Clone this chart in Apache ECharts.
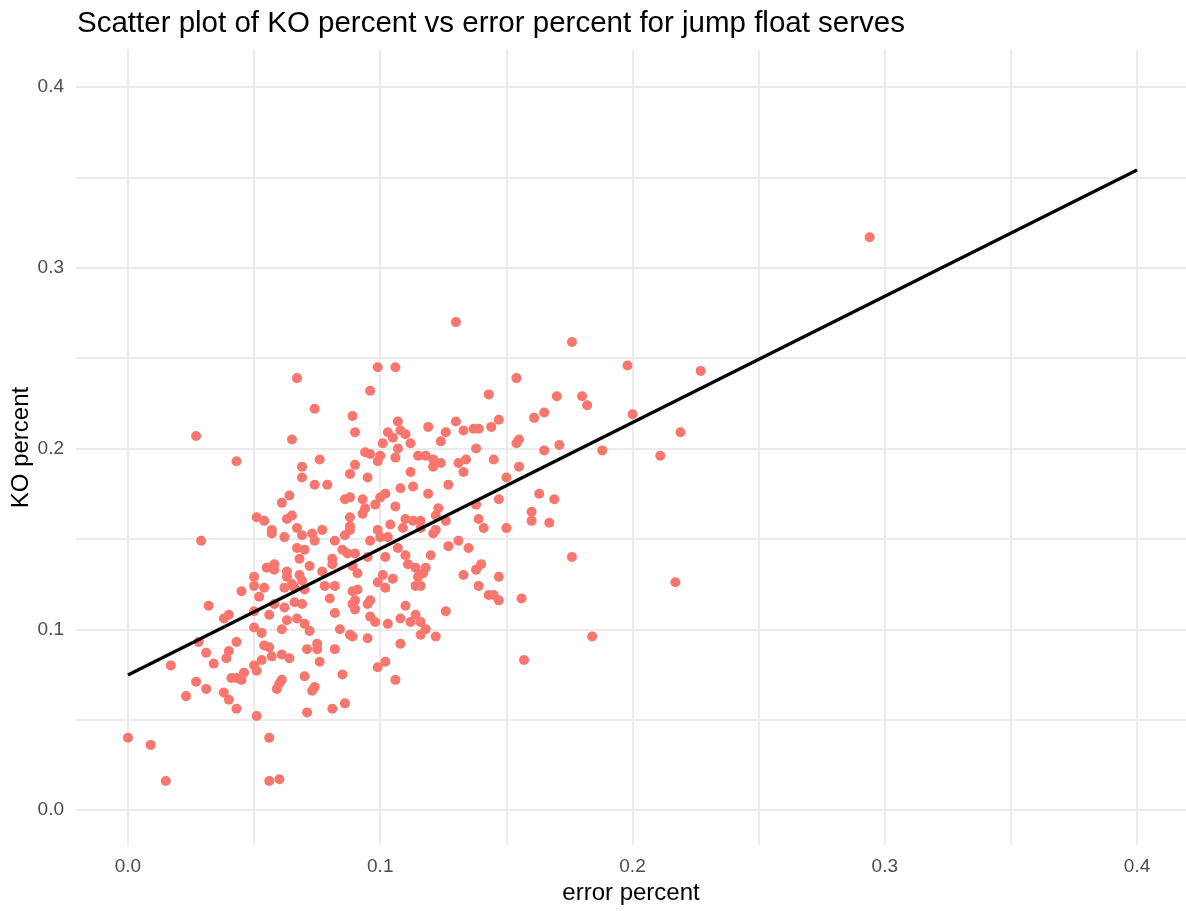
<!DOCTYPE html>
<html lang="en" style="height: 100%">

<head>
    <meta charset="UTF-8" />
    <title>KO vs error</title>
    <style>
        html, body {
            margin: 0;
            padding: 0;
            background: #ffffff;
        }
        #container {
            width: 1186px;
            height: 911px;
        }
    </style>
</head>

<body>
    <div id="container"></div>
    <script src="https://cdn.jsdelivr.net/npm/echarts@6/dist/echarts.min.js"></script>

    <script type="text/javascript">
        // error percent (x) / KO percent (y), one entry per server
        var errPct = [
            0.027, 0.043, 0.061, 0.064, 0.051, 0.054, 0.057, 0.057, 0.063, 0.062,
            0.029, 0.055, 0.058, 0.058, 0.050, 0.050, 0.054, 0.052, 0.045, 0.062,
            0.063, 0.058, 0.062, 0.056, 0.050, 0.032, 0.038, 0.040, 0.050, 0.053,
            0.061, 0.063, 0.028, 0.043, 0.054, 0.056, 0.031, 0.040, 0.039, 0.034,
            0.017, 0.053, 0.057, 0.061, 0.050, 0.051, 0.046, 0.041, 0.043, 0.045,
            0.061, 0.060, 0.059, 0.027, 0.031, 0.023, 0.038, 0.040, 0.043, 0.051,
            0.000, 0.009, 0.056, 0.015, 0.056, 0.060,
            0.130, 0.099, 0.106, 0.067, 0.096, 0.074, 0.089, 0.090, 0.065, 0.107,
            0.103, 0.105, 0.108, 0.110, 0.101, 0.107, 0.112, 0.119, 0.130, 0.126,
            0.124, 0.133, 0.137, 0.139, 0.138, 0.094, 0.096, 0.100, 0.099, 0.106,
            0.115, 0.118, 0.121, 0.121, 0.124, 0.131, 0.134, 0.133, 0.076, 0.069,
            0.090, 0.088, 0.069, 0.095, 0.112, 0.074, 0.079, 0.127, 0.113, 0.108,
            0.119, 0.086, 0.088, 0.093, 0.100, 0.102, 0.098, 0.106, 0.094, 0.093,
            0.065, 0.088, 0.123, 0.110, 0.113, 0.116, 0.122, 0.126, 0.138, 0.139,
            0.067, 0.077, 0.088, 0.088, 0.099, 0.104, 0.109, 0.116, 0.121, 0.122,
            0.069, 0.073, 0.074, 0.082, 0.086, 0.096, 0.100, 0.103, 0.107, 0.110,
            0.120, 0.127, 0.131, 0.135, 0.067, 0.070, 0.085, 0.081, 0.087, 0.090,
            0.068, 0.102,
            0.095, 0.072, 0.063, 0.068, 0.069, 0.065, 0.066, 0.070, 0.077, 0.081,
            0.089, 0.091, 0.101, 0.105, 0.099, 0.102, 0.111, 0.114, 0.118, 0.117,
            0.115, 0.114, 0.116, 0.133, 0.138, 0.139, 0.078, 0.082, 0.080, 0.082,
            0.089, 0.091, 0.089, 0.090, 0.090, 0.095, 0.096, 0.066, 0.069, 0.096,
            0.098, 0.103, 0.110, 0.108, 0.112, 0.114, 0.116, 0.118, 0.116, 0.122,
            0.126, 0.067, 0.070, 0.072, 0.084, 0.088, 0.089, 0.095, 0.108, 0.075,
            0.071, 0.075, 0.082, 0.064, 0.076, 0.102, 0.099, 0.070, 0.085, 0.106,
            0.074, 0.073, 0.086, 0.081, 0.071,
            0.176, 0.198, 0.154, 0.143, 0.170, 0.180, 0.182, 0.161, 0.165, 0.200,
            0.147, 0.144, 0.155, 0.154, 0.165, 0.171, 0.188, 0.211, 0.145, 0.155,
            0.150, 0.147, 0.163, 0.169, 0.141, 0.150, 0.160, 0.160, 0.167, 0.176,
            0.140, 0.147, 0.143, 0.145, 0.147, 0.156, 0.184, 0.157,
            0.294, 0.227, 0.219, 0.217
        ];
        var koPct = [
            0.207, 0.193, 0.170, 0.174, 0.162, 0.160, 0.155, 0.153, 0.161, 0.151,
            0.149, 0.134, 0.136, 0.133, 0.129, 0.124, 0.123, 0.118, 0.121, 0.123,
            0.129, 0.114, 0.112, 0.108, 0.110, 0.113, 0.106, 0.108, 0.101, 0.098,
            0.100, 0.105, 0.093, 0.093, 0.091, 0.090, 0.087, 0.088, 0.084, 0.081,
            0.080, 0.083, 0.085, 0.086, 0.080, 0.077, 0.076, 0.073, 0.073, 0.072,
            0.072, 0.070, 0.067, 0.071, 0.067, 0.063, 0.065, 0.061, 0.056, 0.052,
            0.040, 0.036, 0.040, 0.016, 0.016, 0.017,
            0.270, 0.245, 0.245, 0.239, 0.232, 0.222, 0.218, 0.209, 0.205, 0.215,
            0.209, 0.206, 0.210, 0.208, 0.203, 0.200, 0.203, 0.212, 0.215, 0.209,
            0.204, 0.210, 0.211, 0.211, 0.200, 0.198, 0.197, 0.196, 0.193, 0.195,
            0.196, 0.196, 0.194, 0.190, 0.192, 0.192, 0.194, 0.187, 0.194, 0.190,
            0.191, 0.186, 0.184, 0.184, 0.187, 0.180, 0.180, 0.180, 0.179, 0.178,
            0.175, 0.172, 0.173, 0.172, 0.173, 0.175, 0.169, 0.168, 0.167, 0.164,
            0.163, 0.162, 0.167, 0.161, 0.160, 0.160, 0.163, 0.160, 0.169, 0.161,
            0.156, 0.155, 0.157, 0.155, 0.155, 0.158, 0.156, 0.156, 0.153, 0.155,
            0.152, 0.153, 0.149, 0.149, 0.152, 0.149, 0.151, 0.151, 0.145, 0.141,
            0.141, 0.146, 0.149, 0.145, 0.145, 0.144, 0.144, 0.139, 0.142, 0.142,
            0.139, 0.140,
            0.140, 0.135, 0.132, 0.130, 0.127, 0.125, 0.123, 0.122, 0.132, 0.136,
            0.135, 0.131, 0.130, 0.128, 0.126, 0.123, 0.136, 0.134, 0.134, 0.131,
            0.129, 0.124, 0.124, 0.130, 0.133, 0.124, 0.124, 0.124, 0.117, 0.109,
            0.121, 0.122, 0.114, 0.116, 0.111, 0.114, 0.116, 0.115, 0.114, 0.107,
            0.104, 0.103, 0.113, 0.106, 0.104, 0.108, 0.104, 0.100, 0.097, 0.096,
            0.110, 0.106, 0.103, 0.099, 0.100, 0.097, 0.096, 0.095, 0.092, 0.092,
            0.089, 0.089, 0.089, 0.084, 0.082, 0.082, 0.079, 0.074, 0.075, 0.072,
            0.068, 0.066, 0.059, 0.056, 0.054,
            0.259, 0.246, 0.239, 0.230, 0.229, 0.229, 0.224, 0.217, 0.220, 0.219,
            0.216, 0.212, 0.205, 0.203, 0.199, 0.202, 0.199, 0.196, 0.194, 0.190,
            0.184, 0.172, 0.175, 0.172, 0.156, 0.156, 0.165, 0.160, 0.159, 0.140,
            0.136, 0.129, 0.119, 0.119, 0.116, 0.117, 0.096, 0.083,
            0.317, 0.243, 0.209, 0.126
        ];
        // fitted line end points
        var fitX = [0, 0.4];
        var fitY = [0.0747, 0.3542];
        // gridline positions and labelled ticks
        var gridVals = [0, 0.05, 0.1, 0.15, 0.2, 0.25, 0.3, 0.35, 0.4];
        var tickVals = [0, 0.1, 0.2, 0.3, 0.4];

        var font = "'Liberation Sans', Arial, sans-serif";
        var dom = document.getElementById("container");
        var myChart = echarts.init(dom, null, { renderer: 'canvas' });

        var points = errPct.map(function (x, i) { return [x, koPct[i]]; });
        var line = fitX.map(function (x, i) { return [x, fitY[i]]; });

        function axis(name, gap, extra) {
            var a = {
                type: 'value',
                name: name,
                nameLocation: 'middle',
                nameGap: gap,
                nameMoveOverlap: false,
                nameTextStyle: { color: '#000', fontSize: 24, fontFamily: font },
                axisLine: { show: false },
                axisTick: { show: false, customValues: gridVals },
                axisLabel: {
                    customValues: tickVals,
                    color: '#4D4D4D',
                    fontSize: 19,
                    fontFamily: font,
                    margin: 12,
                    formatter: function (v) { return v.toFixed(1); }
                },
                splitLine: { show: true, lineStyle: { color: '#EBEBEB', width: 2 } }
            };
            for (var k in extra) a[k] = extra[k];
            return a;
        }

        var option = {
            animation: false,
            backgroundColor: '#fff',
            title: {
                text: 'Scatter plot of KO percent vs error percent for jump float serves',
                left: 72,
                top: 4,
                textStyle: { color: '#000', fontSize: 29.5, fontWeight: 'normal', fontFamily: font }
            },
            grid: { left: 76, right: 0, top: 50, bottom: 66, outerBoundsMode: 'none', containLabel: false },
            xAxis: axis('error percent', 36, { min: -0.0206, max: 0.4194 }),
            yAxis: axis('KO percent', 43, { min: -0.0194, max: 0.4206, nameRotate: 90 }),
            series: [{
                type: 'scatter',
                data: points,
                symbolSize: 10,
                itemStyle: { color: '#F8766D', opacity: 1 }
            }, {
                type: 'line',
                data: line,
                showSymbol: false,
                lineStyle: { color: '#000', width: 3.2 },
                z: 3
            }]
        };
        myChart.setOption(option, true);
    </script>
</body>

</html>
